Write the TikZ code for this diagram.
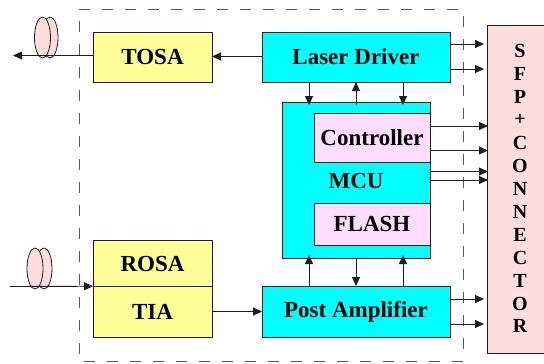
\documentclass[tikz,border=0pt]{standalone}
\usepackage{fontspec}
\setmainfont{Liberation Serif}
\usetikzlibrary{arrows.meta,shapes.geometric}
\definecolor{yel}{RGB}{255,255,153}
\definecolor{cyn}{RGB}{0,255,255}
\definecolor{lil}{RGB}{255,221,255}
\definecolor{pnk}{RGB}{255,221,221}
\definecolor{lin}{RGB}{30,30,30}
\tikzset{
  lab/.style={font=\fontsize{23}{25}\selectfont\bfseries},
  box/.style={draw=lin,line width=0.9pt,inner sep=0pt,outer sep=0pt,lab,align=center},
  ybox/.style={box,fill=yel},
  cbox/.style={box,fill=cyn},
  lbox/.style={box,fill=lil},
  lens/.style={ellipse,draw=lin,line width=0.8pt,fill=pnk,inner sep=0pt,outer sep=0pt,minimum width=16pt,minimum height=41pt},
  arr/.style={draw=lin,line width=0.9pt,-{Triangle[length=9pt,width=8pt]}},
  frame/.style={draw=black!65,line width=0.9pt,dash pattern=on 11pt off 12pt}
}
\begin{document}
\begin{tikzpicture}[x=1pt,y=-1pt]
\useasboundingbox (0,0) rectangle (544,364);
\fill[white] (0,0) rectangle (544,364);
\draw[frame] (79,9) -- (463,9) -- (463,361) -- (79,361) -- cycle;
\node[lens] (la) at (50,37.5) {};
\node[lens] (lb) at (42.5,37.5) {};
\node[lens] (lc) at (44,268.5) {};
\node[lens] (ld) at (35,268.5) {};
\node[ybox,minimum width=119pt,minimum height=50pt] (tosa) at (152.5,57) {TOSA};
\node[cbox,minimum width=188pt,minimum height=50pt] (laser) at (356,57) {Laser Driver};
\node[cbox,minimum width=148pt,minimum height=156pt] (mcu) at (356,180) {};
\node[lab] (mcutext) at (356,181) {MCU};
\node[lbox,minimum width=116pt,minimum height=49pt] (ctrl) at (372,137.5) {Controller};
\node[lbox,minimum width=116pt,minimum height=42pt] (flash) at (372,224) {FLASH};
\node[ybox,minimum width=119pt,minimum height=45.5pt] (rosa) at (152.5,263.5) {ROSA};
\node[ybox,minimum width=119pt,minimum height=51pt] (tia) at (152.5,311.5) {TIA};
\node[cbox,minimum width=188pt,minimum height=51pt] (post) at (356,311.5) {Post Amplifier};
\node[box,fill=pnk,minimum width=60pt,minimum height=328pt] (conn) at (517,189) {};
\foreach \t/\y in {S/51,F/74,P/97,+/120,C/142.5,O/165.5,N/188.5,N/212,E/235,C/258,T/280.5,O/303.5,R/326}
  \node[font=\fontsize{20}{22}\selectfont\bfseries,inner sep=0pt] at (520,\y) {\t};
\coordinate (fout) at (13,55.5);
\coordinate (fin) at (10,286.5);
\draw[arr] (tosa.west |- fout) -- (fout);
\draw[arr] (fin) -- (rosa.south west);
\draw[arr] ([yshift=0.5pt]laser.west) -- ([yshift=0.5pt]tosa.east);
\draw[arr] (tia.east) -- (post.west);
\foreach \s in {-12,13}
  \draw[arr] ([yshift=\s pt]laser.east) -- ([xshift=-3pt,yshift=\s pt]laser.east -| conn.west);
\foreach \s in {-12.5,12.5}
  \draw[arr] ([yshift=\s pt]post.east) -- ([xshift=-3pt,yshift=\s pt]post.east -| conn.west);
\foreach \s in {-13,11.5}
  \draw[arr] ([yshift=\s pt]ctrl.east) -- ([xshift=1pt,yshift=\s pt]ctrl.east -| conn.west);
\foreach \s in {0,8.5}
  \draw[arr] ([yshift=\s pt]mcu.east) -- ([xshift=1pt,yshift=\s pt]mcu.east -| conn.west);
\draw[arr] ([xshift=-47pt]laser.south) -- ([xshift=-47pt,yshift=-3pt]mcu.north);
\draw[arr] ([yshift=-3pt]mcu.north) -- (laser.south);
\draw[arr] ([xshift=47pt]laser.south) -- ([xshift=47pt,yshift=-3pt]mcu.north);
\draw[arr] ([xshift=-47pt]post.north) -- ([xshift=-47pt,yshift=3pt]mcu.south);
\draw[arr] (mcu.south) -- (post.north);
\draw[arr] ([xshift=47pt]post.north) -- ([xshift=47pt,yshift=3pt]mcu.south);
\end{tikzpicture}
\end{document}
